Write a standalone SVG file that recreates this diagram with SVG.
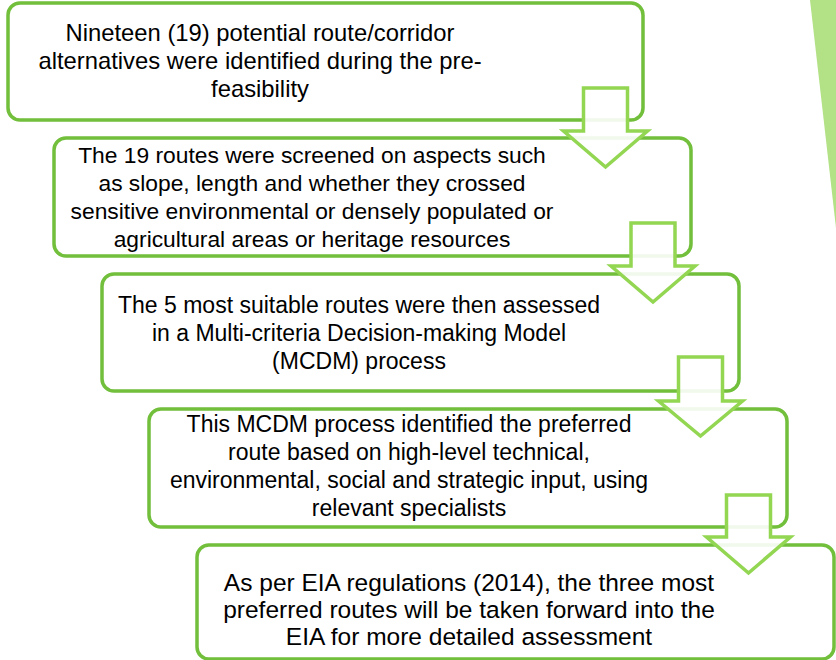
<svg xmlns="http://www.w3.org/2000/svg" width="836" height="660" viewBox="0 0 836 660">
<style>
.box{fill:#fff;stroke:#72bf3c;stroke-width:3.5}
.arr{fill:#fff;fill-opacity:0.9;stroke:#92d652;stroke-width:3.5;stroke-linejoin:miter}
.t{font-family:"Liberation Sans",Arial,sans-serif;font-size:23px;fill:#000;text-anchor:middle}
</style>
<rect width="836" height="660" fill="#fff"/>
<polygon points="810,0 836,0 836,228" fill="#b3e186"/>
<g id="node1"><rect class="box" x="8" y="3" width="635" height="117" rx="12"/>
<text class="t" style="font-size:23.8px"><tspan x="260" y="41">Nineteen (19) potential route/corridor</tspan><tspan x="260" y="69">alternatives were identified during the pre-</tspan><tspan x="260" y="97">feasibility</tspan></text></g>
<g id="node2"><rect class="box" x="54" y="138" width="637" height="118" rx="12"/>
<text class="t" style="font-size:22.8px"><tspan x="312" y="163">The 19 routes were screened on aspects such</tspan><tspan x="312" y="191">as slope, length and whether they crossed</tspan><tspan x="312" y="219">sensitive environmental or densely populated or</tspan><tspan x="312" y="247">agricultural areas or heritage resources</tspan></text></g>
<g id="node3"><rect class="box" x="102" y="274" width="637" height="117" rx="12"/>
<text class="t"><tspan x="359" y="313">The 5 most suitable routes were then assessed</tspan><tspan x="359" y="341">in a Multi-criteria Decision-making Model</tspan><tspan x="359" y="369">(MCDM) process</tspan></text></g>
<g id="node4"><rect class="box" x="149" y="409" width="638" height="118" rx="12"/>
<text class="t"><tspan x="409" y="432">This MCDM process identified the preferred</tspan><tspan x="409" y="460">route based on high-level technical,</tspan><tspan x="409" y="488">environmental, social and strategic input, using</tspan><tspan x="409" y="516">relevant specialists</tspan></text></g>
<g id="node5"><rect class="box" x="197" y="545" width="637" height="114" rx="12"/>
<text class="t" style="font-size:24.5px"><tspan x="469" y="591">As per EIA regulations (2014), the three most</tspan><tspan x="469" y="618">preferred routes will be taken forward into the</tspan><tspan x="469" y="645">EIA for more detailed assessment</tspan></text></g>
<g id="connectors">
<polygon class="arr" points="583.5,88 627.5,88 627.5,131 647.5,131 605.5,167 563.5,131 583.5,131"/>
<polygon class="arr" points="631,223 675,223 675,266 695,266 653,302 611,266 631,266"/>
<polygon class="arr" points="678.5,357 722.5,357 722.5,401 742.5,401 700.5,436 658.5,401 678.5,401"/>
<polygon class="arr" points="726.5,495 770.5,495 770.5,537 790.5,537 748.5,573 706.5,537 726.5,537"/>
</g>
</svg>
